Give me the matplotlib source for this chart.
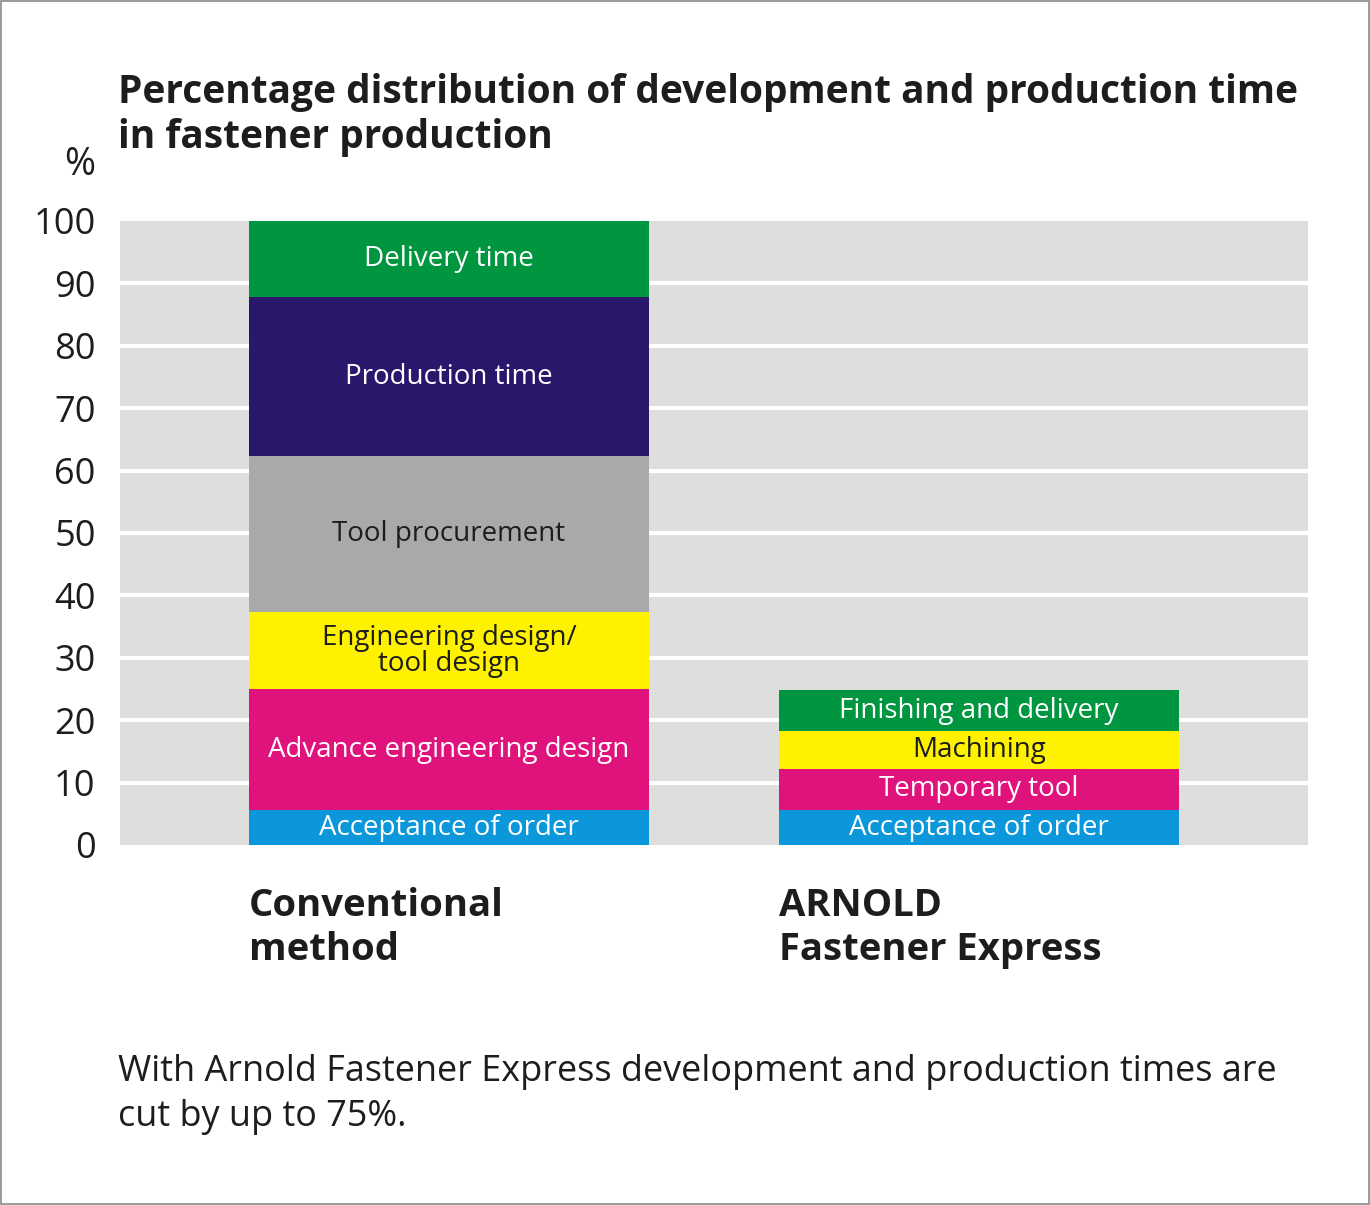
import matplotlib.pyplot as plt
from matplotlib.patches import Rectangle

# data
categories = ["Conventional\nmethod", "ARNOLD\nFastener Express"]

conv_labels = ["Acceptance of order", "Advance engineering design",
               "Engineering design/\ntool design", "Tool procurement",
               "Production time", "Delivery time"]
conv_values = [5.6, 19.4, 12.3, 25.0, 25.5, 12.2]

arnold_labels = ["Acceptance of order", "Temporary tool", "Machining",
                 "Finishing and delivery"]
arnold_values = [5.6, 6.6, 6.1, 6.5]

yticks = [0, 10, 20, 30, 40, 50, 60, 70, 80, 90, 100]

# colours
BLUE = "#0b97d9"
MAGENTA = "#e0127c"
YELLOW = "#fff200"
GREY = "#a9a9a9"
NAVY = "#29176c"
GREEN = "#009640"
DARK = "#1d1d1b"

conv_colors = [BLUE, MAGENTA, YELLOW, GREY, NAVY, GREEN]
arnold_colors = [BLUE, MAGENTA, YELLOW, GREEN]
light_text = {BLUE, MAGENTA, NAVY, GREEN}

FONT = "Open Sans"

fig = plt.figure(figsize=(13.7, 12.05), dpi=100)
fig.patch.set_facecolor("white")
fig.patches.append(Rectangle((0.0008, 0.001), 0.9984, 0.998, transform=fig.transFigure,
                             fill=False, edgecolor="#8a8a8a", linewidth=1.2))

ax = fig.add_axes([120 / 1370, 1 - 845 / 1205, 1188 / 1370, 624 / 1205])
ax.set_facecolor("#dededd")
for s in ax.spines.values():
    s.set_visible(False)

ax.set_xlim(-0.62, 1.62)
ax.set_ylim(0, 100)
ax.set_xticks([])
ax.set_yticks(yticks)
ax.set_yticklabels([str(t) for t in yticks], fontsize=26, family=FONT, color=DARK)
ax.tick_params(axis="y", length=0, pad=17.5)
for t in yticks[1:-1]:
    ax.axhline(t, color="white", linewidth=3, zorder=1)

width = 0.755


def stack(xpos, values, labels, colors):
    bottom = 0
    for v, lab, c in zip(values, labels, colors):
        ax.bar(xpos, v, width=width, bottom=bottom, color=c, zorder=2, linewidth=0)
        tc = "white" if c in light_text else DARK
        ax.text(xpos, bottom + v / 2, lab, ha="center", va="center", fontsize=20,
                family=FONT, color=tc, linespacing=0.9, zorder=3)
        bottom += v


stack(0, conv_values, conv_labels, conv_colors)
stack(1, arnold_values, arnold_labels, arnold_colors)

# category labels below the bars, left aligned to bar edge
for xpos, cat in zip([0, 1], categories):
    ax.text(xpos - width / 2, -6.8, cat, ha="left", va="top", fontsize=27.5,
            family=FONT, weight="bold", color=DARK, linespacing=1.2)

# title
fig.text(118 / 1370, 1 - 103 / 1205, "Percentage distribution of development and production time",
         ha="left", va="baseline", fontsize=28, family=FONT, weight="bold", color=DARK)
fig.text(118 / 1370, 1 - 148 / 1205, "in fastener production",
         ha="left", va="baseline", fontsize=28, family=FONT, weight="bold", color=DARK)
fig.text(95 / 1370, 1 - 175 / 1205, "%", ha="right", va="baseline", fontsize=27,
         family=FONT, color=DARK)

# footer
fig.text(118 / 1370, 1 - 1081 / 1205,
         "With Arnold Fastener Express development and production times are",
         ha="left", va="baseline", fontsize=25.9, family=FONT, color=DARK)
fig.text(118 / 1370, 1 - 1126 / 1205, "cut by up to 75%.",
         ha="left", va="baseline", fontsize=25.9, family=FONT, color=DARK)

fig.savefig("out.png", dpi=100, facecolor="white")
